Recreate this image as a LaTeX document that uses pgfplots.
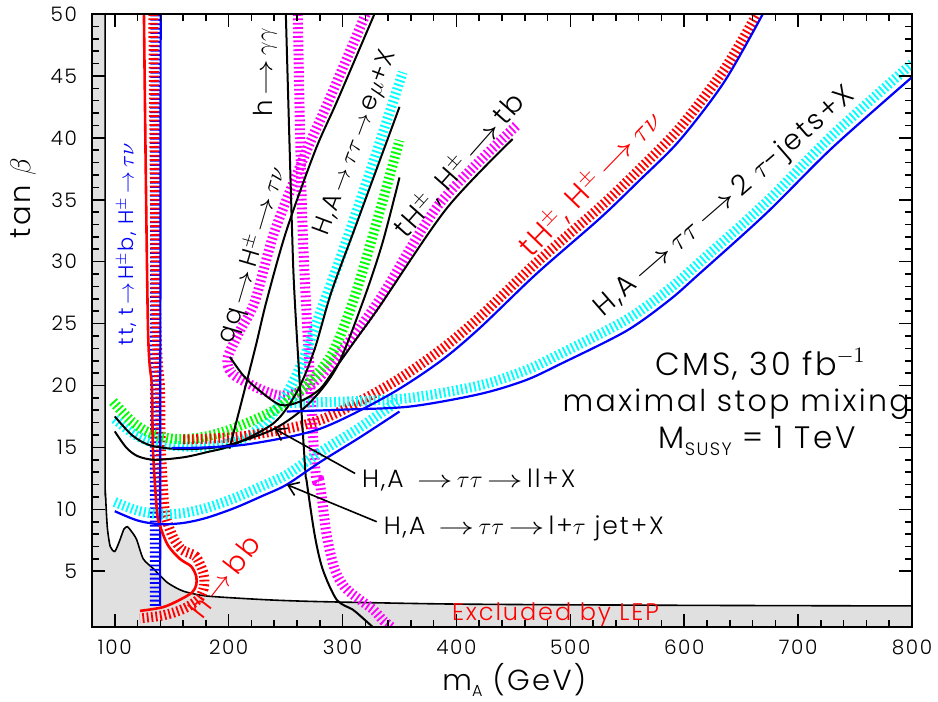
\documentclass[border=0pt]{standalone}
\usepackage{fontspec}
\usepackage{graphicx}
\IfFontExistsTF{Poppins Light}{\setmainfont{Poppins Light}[LetterSpace=8]}{\setmainfont{Poppins}[LetterSpace=8]}
\usepackage{pgfplots}
\pgfplotsset{compat=1.18}
\usetikzlibrary{arrows.meta}
\definecolor{lepgray}{RGB}{224,224,224}
\definecolor{cy}{RGB}{0,255,255}
\definecolor{gr}{RGB}{0,255,0}
\definecolor{mg}{RGB}{255,0,255}
\tikzset{hatch/.style={line width=5pt, dash pattern=on 0.9pt off 1.3pt}}
\newcommand{\fs}[1]{\fontsize{#1}{#1}\selectfont}
\newcommand{\ar}{\,$\rightarrow$\,}
\newcommand{\la}{\,\scalebox{1.5}[1]{$\rightarrow$}\,}
\begin{document}
\begin{tikzpicture}
\path[use as bounding box] (-46pt,-37.5pt) rectangle (423pt,313.5pt);
\begin{axis}[
  scale only axis, width=410pt, height=306.5pt,
  xmin=80, xmax=800, ymin=0.5, ymax=50,
  xtick={100,200,...,800}, ytick={5,10,...,50},
  minor x tick num=4, minor y tick num=4,
  tick align=inside, major tick length=6.5pt, minor tick length=3.5pt,
  axis line style={line width=1pt},
  every tick/.style={line width=0.8pt, black},
  /pgf/number format/assume math mode=true,
  ticklabel style={font=\fs{10}},
  yticklabel style={xshift=-4pt},
  xticklabel style={yshift=-3pt},
  xlabel={m\raisebox{-0.35ex}{\fs{8}A} (GeV)},
  ylabel={tan $\beta$},
  label style={font=\fs{14.5}},
  xlabel style={at={(axis description cs:0.515,-0.0865)}, anchor=center},
  ylabel style={at={(axis description cs:-0.084,0.70)}, anchor=center},
  axis on top,
]
% LEP excluded region
\addplot[fill=lepgray, draw=none] coordinates {(80,0.5) (80,50) (91.5,50) (91.5,14) (92,11) (93.5,8.5) (96,7.0) (100,6.6) (104,7.4) (108,8.4) (111,8.6) (114,8.3) (119,7.6) (125,6.0) (134,5.2) (146,4.1) (160,3.4) (181,3.0) (233,2.7) (280,2.55) (400,2.35) (600,2.25) (800,2.2) (800,0.5)} -- cycle;
\addplot[black, line width=0.8pt, smooth, tension=0.4] coordinates {(91.5,50) (91.5,14) (92,11) (93.5,8.5) (96,7.0) (100,6.6) (104,7.4) (108,8.4) (111,8.6) (114,8.3) (119,7.6) (125,6.0) (134,5.2) (146,4.1) (160,3.4) (181,3.0) (233,2.7) (280,2.55) (400,2.35) (600,2.25) (800,2.2)};

% hatched bands
\addplot[blue, hatch] coordinates {(135.2,2.2) (135.6,50)};
\addplot[red, hatch, smooth, tension=0.5] coordinates {(133.8,50) (136.6,24.9) (139.6,19.9) (140.5,14.9) (143.5,10.2) (146,9.0) (151.5,7.7) (159.5,6.7) (171,6.2) (178,4.8) (178,3.6) (173,2.7) (160,1.95) (143,1.45) (122,1.2)};
\addplot[mg, hatch, smooth, tension=0.5] coordinates {(260.7,50) (265,32.5) (275.6,13.8) (280,12.2) (286.1,7.9) (293.2,5.15) (302,3.7) (315.1,2.7) (327,1.9) (336,1.0) (343,0.5)};
\addplot[mg, hatch, smooth, tension=0.5] coordinates {(320.4,50) (287.9,43) (268.6,39) (240.5,32.5) (223,26.8) (209.8,24.4) (199,22.2) (202.8,21.0) (218.6,20.1) (236.1,19.4) (247.5,19.2) (262.5,19.5) (280,20.7) (306.3,23.6) (334.4,27.2) (385.3,34.7) (452.8,41.0)};
\addplot[cy, hatch, smooth, tension=0.5] coordinates {(100,17.3) (115,16.2) (130,15.5) (150,15.15) (170,15.05) (190,15.15) (210,15.6) (230,16.8) (250,19.2) (265,22) (280,25.8) (300,30.8) (325,37.5) (352.8,45.3)};
\addplot[gr, hatch, smooth, tension=0.5] coordinates {(98.4,18.7) (115,17.1) (130,16.2) (151,15.7) (175,15.8) (203,16.5) (242,18.1) (270,20.2) (291,22.6) (310,27) (330,33.2) (350,39.8)};
\addplot[cy, hatch, smooth, tension=0.5] coordinates {(100,10.6) (120,9.9) (140,9.6) (160,9.7) (180,10.1) (205,10.9) (230,11.9) (251,12.8) (280,14.6) (315,16.6) (348,18.7)};
\addplot[red, hatch, smooth, tension=0.5] coordinates {(160,15.65) (180,15.7) (220,16.0) (280,17.2) (340,20.0) (385,22.8) (420,25.5) (470,29.9) (526,34.4) (560,37.4) (596,40.8) (635,45.5) (664,50)};
\addplot[cy, hatch, smooth, tension=0.5] coordinates {(254,18.6) (300,18.7) (359,19.0) (420,20.0) (460,21.2) (490,22.5) (549,25.3) (587,27.8) (613,29.9) (672,34.8) (730,40.2) (800,46)};

% solid lines
\addplot[blue, line width=1.1pt] coordinates {(139.8,2.2) (140.3,50)};
\addplot[red, line width=1.3pt, smooth, tension=0.5] coordinates {(125.6,50) (129.1,24.9) (132.6,19.9) (133.5,14.9) (137,9.9) (139.6,8.7) (146.7,7.1) (157.2,6.0) (167,5.4) (171.5,4.6) (171.5,3.9) (168,3.3) (157.2,2.7) (142.3,2.1) (122.1,1.8)};
\addplot[black, line width=1pt, smooth, tension=0.5] coordinates {(250.2,50) (255.4,33.3) (258.1,26.8) (266.8,13.8) (268.6,12.2) (275.6,7.9) (282.6,5.15) (294.9,2.7) (309,1.9) (318,1.2) (326.5,0.5)};
\addplot[black, line width=1pt, smooth, tension=0.5] coordinates {(328,50) (295.4,43) (276.1,39) (250.7,32.5) (233.2,26.8) (222.6,22.75) (200.7,14.9)};
\addplot[black, line width=1pt, smooth, tension=0.5] coordinates {(201.1,22.3) (212,20.9) (223,19.9) (244.9,18.45) (262.5,18.7) (280,19.7) (291.4,21.1) (310,23.5) (332.6,26.4) (391.4,34.3) (449.3,39.9)};
\addplot[black, line width=1pt, smooth, tension=0.5] coordinates {(100,16.3) (110,15.0) (120,14.3) (135,14.0) (160,14.2) (180,14.6) (204,15.2) (240,17) (260,19.5) (275,22.8) (290,27.5) (310,32.5) (330,37.5) (350,42.5)};
\addplot[black, line width=1pt, smooth, tension=0.5] coordinates {(100,17.5) (115,16) (130,15.2) (150,14.9) (175,14.9) (200,15.2) (240,16.5) (270,18.5) (295,21.5) (318,26.8) (335,31.5) (350,36.8)};
\addplot[blue, line width=1.1pt, smooth, tension=0.5] coordinates {(100,9.85) (120,9.1) (139.6,8.8) (160,8.9) (180,9.3) (205,10.1) (230,11.1) (251,12.0) (280,13.8) (315,15.8) (350,17.9)};
\addplot[blue, line width=1.1pt, smooth, tension=0.5] coordinates {(150,14.95) (180,15.0) (220,15.3) (280,16.5) (340,19.2) (385,21.9) (420,24.6) (470,29) (526,33.5) (560,36.5) (596,39.8) (635,44.5) (669,50)};
\addplot[blue, line width=1.1pt, smooth, tension=0.5] coordinates {(251,17.9) (300,18.05) (359,18.3) (420,19.3) (460,20.4) (490.5,21.7) (549,24.4) (587,26.9) (613,29) (672,33.9) (730,39.2) (800,44.9)};

% annotation arrows
\draw[black, line width=0.8pt, -{Straight Barb[length=5pt,width=7pt]}] (axis cs:311,12.9) -- (axis cs:240.5,16.5);
\draw[black, line width=0.8pt, -{Straight Barb[length=5pt,width=7pt]}] (axis cs:330,9.0) -- (axis cs:251,12.0);

% labels
\node[rotate=90, text=blue, font=\fs{10.5}] at (axis cs:110.5,31.4) {tt, t\ar H$^\pm$b, H$^\pm$\ar$\tau\nu$};
\node[rotate=90, font=\fs{13}] at (axis cs:231.8,45.3) {h\la$\gamma\gamma$};
\node[rotate=73.6, font=\fs{12.5}] at (axis cs:221,30.5) {qq\la H$^\pm$\la$\tau\nu$};
\node[rotate=69.5, font=\fs{12.5}] at (axis cs:311.6,39.6) {H,A\ar$\tau\tau$\ar e$\mu$+X};
\node[rotate=48.6, font=\fs{14}] at (axis cs:402.8,37.75) {tH$^\pm$, H$^\pm$\la tb};
\node[rotate=46, text=red, font=\fs{15}] at (axis cs:517.5,36.3) {tH$^\pm$, H$^\pm$\la$\tau\nu$};
\node[rotate=41, font=\fs{14}] at (axis cs:636,34.8) {H,A\la$\tau\tau$\la 2 $\tau$-jets+X};
\node[rotate=52, text=red, font=\fs{14}] at (axis cs:196,4.6) {h\ar bb};
\node[text=red, font=\fs{12}] at (axis cs:487,1.5) {Excluded by LEP};
\node[font=\fs{16}] at (axis cs:667,21.7) {CMS, 30 fb$^{-1}$};
\node[font=\fs{15}] at (axis cs:645.6,18.45) {maximal stop mixing};
\node[font=\fs{15.5}] at (axis cs:664,15.5) {M\raisebox{-0.4ex}{\fs{9}SUSY} = 1 TeV};
\node[font=\fs{12.5}, anchor=west] at (axis cs:311,12.4) {H,A \la$\tau\tau$\la ll+X};
\node[font=\fs{12.5}, anchor=west] at (axis cs:330,8.5) {H,A \la$\tau\tau$\la l+$\tau$ jet+X};
\end{axis}
\end{tikzpicture}
\end{document}
